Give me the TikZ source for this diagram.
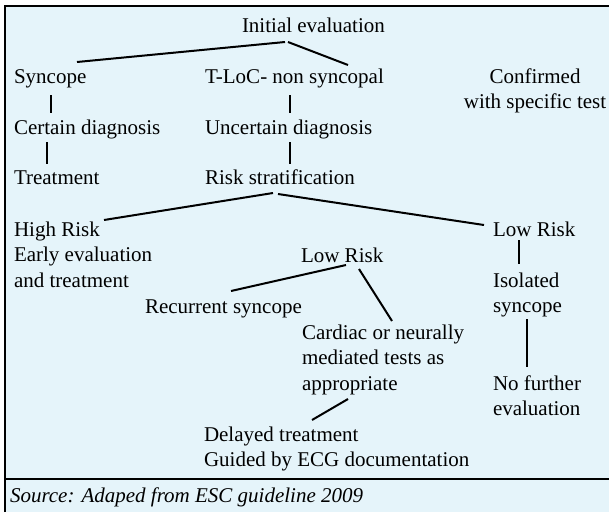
\documentclass[tikz,border=0pt]{standalone}
\usepackage{fontspec}
\setmainfont{Liberation Serif}
\usepackage{xcolor}
\usetikzlibrary{positioning,calc}
\definecolor{panel}{RGB}{229,244,250}

\begin{document}
\begin{tikzpicture}[x=1pt,y=-1pt,line width=2pt,
    every node/.style={inner sep=0pt,anchor=base west,align=left,font=\fontsize{21}{25.5}\selectfont}]
    \useasboundingbox (0,0) rectangle (609,512);
    \fill[white] (0,0) rectangle (609,512);
    \fill[panel] (5,6) rectangle (609,512);
    \draw (5,512) -- (5,6) -- (609,6);
    \draw (5,479) -- (609,479);
    \node (Init) at (241,32) {Initial evaluation};
    \node (Sync) at (13,83) {Syncope};
    \node (TLoC) at (204,83) {T-LoC- non syncopal};
    \node[anchor=base,align=center] (Conf) at (535,108.5) {Confirmed\\with specific test};
    \node (Cert) at (13,134) {Certain diagnosis};
    \node (Uncert) at (204,134) {Uncertain diagnosis};
    \node (Treat) at (13,184) {Treatment};
    \node (RiskStrat) at (204,184) {Risk stratification};
    \node (High) at (13,287) {High Risk\\Early evaluation\\and treatment};
    \node (LowRight) at (492,236) {Low Risk};
    \node (LowMid) at (300,262) {Low Risk};
    \node (Isol) at (492,312.5) {Isolated\\syncope};
    \node (Recur) at (144,313) {Recurrent syncope};
    \node (Cardiac) at (301,390) {Cardiac or neurally\\mediated tests as\\appropriate};
    \node (NoFurther) at (492,415.5) {No further\\evaluation};
    \node (Delayed) at (203,466.5) {Delayed treatment\\Guided by ECG documentation};
    \node[font=\fontsize{21}{25.5}\selectfont\itshape] (Source) at (9,502) {Source: Adaped from ESC guideline 2009};
    \draw ($(Init.base west)+(44,10)$) -- ($(Sync.base west)+(64,-21)$);
    \draw ($(Init.base west)+(47,10)$) -- ($(TLoC.base west)+(144,-18)$);
    \draw ($(Sync.base west)+(38,12)$) -- ($(Cert.base west)+(38,-21)$);
    \draw ($(TLoC.base west)+(86,12)$) -- ($(Uncert.base west)+(86,-21)$);
    \draw ($(Cert.base west)+(34,8)$) -- ($(Treat.base west)+(34,-20)$);
    \draw ($(Uncert.base west)+(86,8)$) -- ($(RiskStrat.base west)+(86,-20)$);
    \draw ($(RiskStrat.base west)+(69,9)$) -- ($(High.base west)+(91,-67)$);
    \draw ($(RiskStrat.base west)+(74,10)$) -- ($(LowRight.base west)+(-8,-11)$);
    \draw ($(LowRight.base west)+(27,4)$) -- ($(Isol.base west)+(27,-48.5)$);
    \draw ($(Isol.base west)+(35,6.5)$) -- ($(NoFurther.base west)+(35,-48.5)$);
    \draw ($(LowMid.base west)+(46,3)$) -- ($(Recur.base west)+(87,-22)$);
    \draw ($(LowMid.base west)+(59,7)$) -- ($(Cardiac.base west)+(91,-69)$);
    \draw ($(Cardiac.base west)+(47,9)$) -- ($(Delayed.base west)+(109,-46.5)$);
\end{tikzpicture}
\end{document}
